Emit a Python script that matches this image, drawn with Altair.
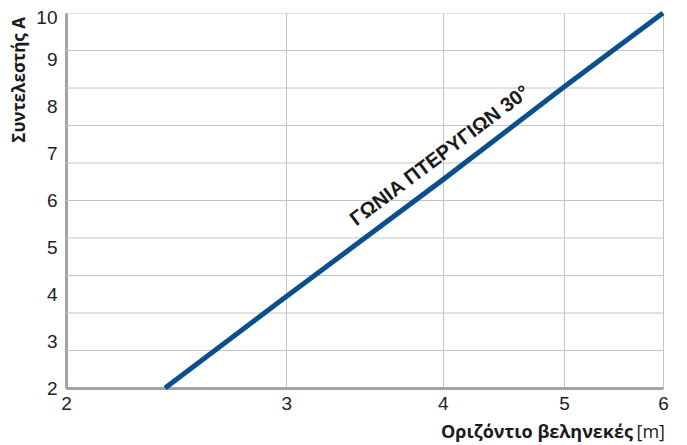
import altair as alt
import pandas as pd

# data
range_m = [2.4, 3.0, 4.0, 5.0, 6.0]
coef_a = [2.0, 3.95, 6.44, 8.42, 10.0]
x_ticks = [2, 3, 4, 5, 6]
y_ticks = [2, 3, 4, 5, 6, 7, 8, 9, 10]
y_grid = [2.8, 3.6, 4.4, 5.2, 6.0, 6.8, 7.6, 8.4, 9.2]
label_text = ["ΓΩΝΙΑ ΠΤΕΡΥΓΙΩΝ 30°"]
label_x = [3.98]
label_y = [6.95]

FONT = "Liberation Sans"
TFONT = "Open Sans"
GRID = "#c4c4c4"
FRAME = "#a3a3a3"

line_df = pd.DataFrame({"x": range_m, "y": coef_a})
grid_df = pd.DataFrame({"y": y_grid})
lab_df = pd.DataFrame({"x": label_x, "y": label_y, "t": label_text})

xs = alt.Scale(type="log", domain=[2, 6], nice=False)
ys = alt.Scale(type="linear", domain=[2, 10], nice=False, zero=False)

hgrid = alt.Chart(grid_df).mark_rule(color=GRID, strokeWidth=1).encode(
    y=alt.Y("y:Q", scale=ys)
)

line = alt.Chart(line_df).mark_line(color="#0b4f8c", strokeWidth=5, strokeCap="butt").encode(
    x=alt.X(
        "x:Q", scale=xs, title=None,
        axis=alt.Axis(values=x_ticks, format="d", grid=True, gridColor=GRID, gridWidth=1,
                      ticks=False, domainColor=FRAME, domainWidth=3,
                      labelFont=FONT, labelFontSize=19, labelColor="#222222",
                      labelPadding=6, labelFlush=False),
    ),
    y=alt.Y(
        "y:Q", scale=ys, title=None,
        axis=alt.Axis(values=y_ticks, format="d", grid=False, ticks=False,
                      domainColor=FRAME, domainWidth=3,
                      labelFont=FONT, labelFontSize=19, labelColor="#222222",
                      labelPadding=9, labelFlush=False,
                      labelOffset={"condition": {"test": "datum.value == 10", "value": 4}, "value": 0}),
    ),
)

lab = alt.Chart(lab_df).mark_text(
    angle=323, font=FONT, fontSize=20, fontWeight="bold", color="#1a1a1a",
    align="center", baseline="middle"
).encode(x=alt.X("x:Q", scale=xs), y=alt.Y("y:Q", scale=ys), text="t:N")

ytitle = alt.Chart(pd.DataFrame({"t": ["Συντελεστής A"]})).mark_text(
    angle=270, font=TFONT, fontSize=17, fontWeight="bold", color="#1a1a1a",
    align="right", baseline="middle"
).encode(x=alt.value(-46), y=alt.value(4), text="t:N")

xtitle_b = alt.Chart(pd.DataFrame({"t": ["Οριζόντιο βεληνεκές"]})).mark_text(
    font=TFONT, fontSize=18, fontWeight="bold", color="#1a1a1a",
    align="right", baseline="alphabetic"
).encode(x=alt.value(567), y=alt.value(425), text="t:N")

xtitle_n = alt.Chart(pd.DataFrame({"t": ["[m]"]})).mark_text(
    font=TFONT, fontSize=18, color="#1a1a1a",
    align="right", baseline="alphabetic"
).encode(x=alt.value(599), y=alt.value(425), text="t:N")

chart = alt.layer(hgrid, line, lab, ytitle, xtitle_b, xtitle_n).properties(
    width=597, height=375,
    autosize=alt.AutoSizeParams(type="none"),
    padding={"left": 58, "top": 5, "right": 16, "bottom": 57},
).configure_view(stroke=FRAME, strokeWidth=2.5).configure(background="white")

chart.save("out.html", embed_options={"renderer": "svg", "actions": False})
